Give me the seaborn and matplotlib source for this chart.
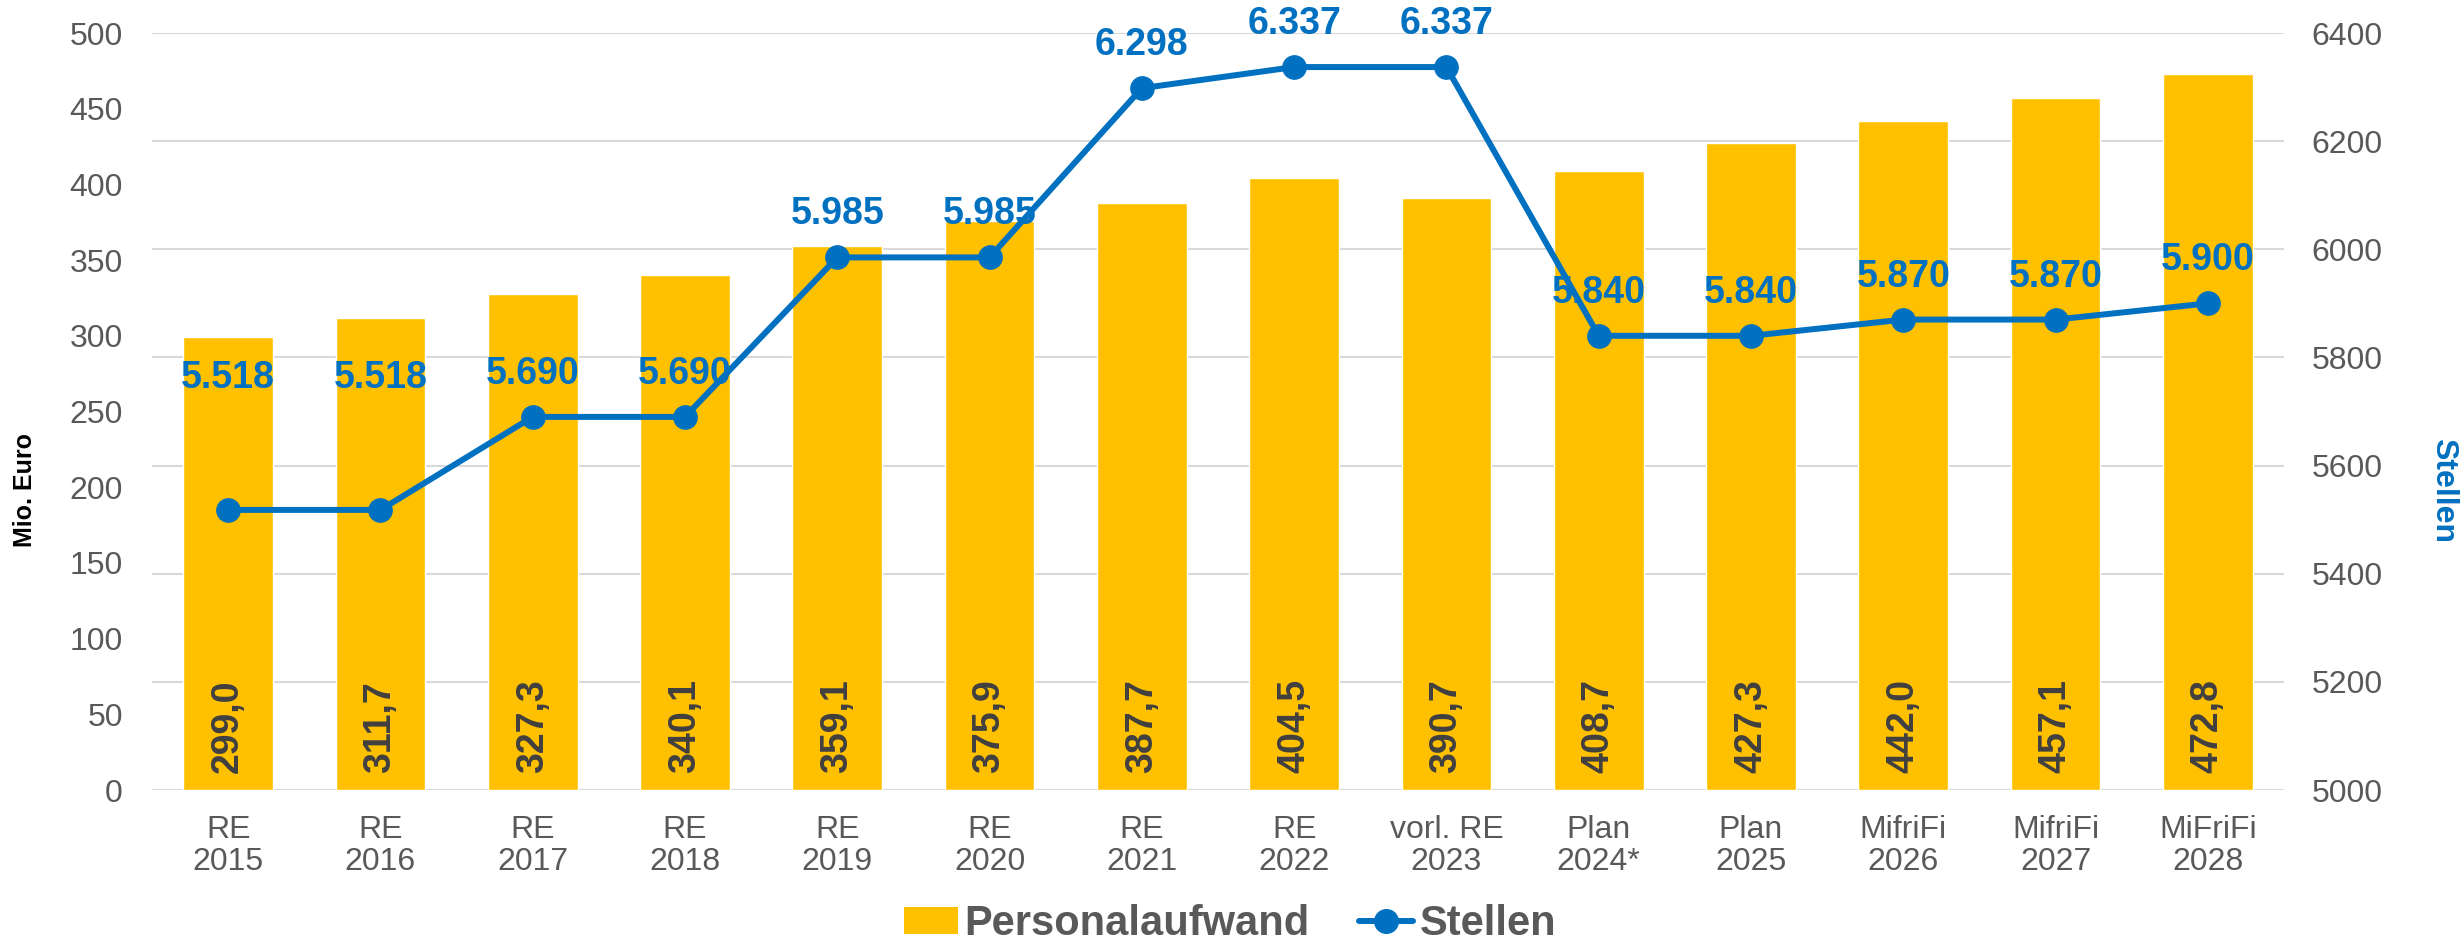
import numpy as np
import pandas as pd
import matplotlib
matplotlib.use("Agg")
import matplotlib.pyplot as plt
from matplotlib.patches import Patch
from matplotlib.lines import Line2D
import seaborn as sns

# ---- data ----
categories = ["RE\n2015", "RE\n2016", "RE\n2017", "RE\n2018", "RE\n2019", "RE\n2020",
              "RE\n2021", "RE\n2022", "vorl. RE\n2023", "Plan\n2024*", "Plan\n2025",
              "MifriFi\n2026", "MifriFi\n2027", "MiFriFi\n2028"]
personalaufwand = [299.0, 311.7, 327.3, 340.1, 359.1, 375.9, 387.7, 404.5, 390.7,
                   408.7, 427.3, 442.0, 457.1, 472.8]
stellen = [5518, 5518, 5690, 5690, 5985, 5985, 6298, 6337, 6337, 5840, 5840, 5870, 5870, 5900]
left_ticks = list(range(0, 501, 50))
right_ticks = list(range(5000, 6401, 200))

# label offsets (points above marker) for the Stellen labels
label_offsets = [95, 95] + [31] * 12

GOLD = "#FFC000"
BLUE = "#0070C0"
GRAY = "#595959"
DARK = "#404040"
GRID = "#D9D9D9"

df = pd.DataFrame({"cat": categories, "pa": personalaufwand, "st": stellen})
df["pos"] = np.arange(len(df))

sns.set_theme(style="white")
plt.rcParams["font.family"] = ["Liberation Sans", "DejaVu Sans"]

fig = plt.figure(figsize=(24.61, 9.46), dpi=100)
ax = fig.add_axes([152 / 2461, 1 - 790 / 946, (2284 - 152) / 2461, (790 - 33) / 946])

sns.barplot(data=df, x="cat", y="pa", color=GOLD, saturation=1, width=0.59, ax=ax, zorder=2)
ax.set_xlim(-0.5, len(df) - 0.5)
ax.set_ylim(0, 500)
ax.set_yticks(left_ticks)
ax.set_xlabel("")
ax.set_ylabel("")

# gridlines aligned with the right axis ticks (drawn behind bars)
for r in right_ticks:
    ax.axhline((r - right_ticks[0]) / (right_ticks[-1] - right_ticks[0]) * 500,
               color=GRID, lw=1.5, zorder=0)

for s in ax.spines.values():
    s.set_visible(False)
ax.tick_params(axis="y", length=0, pad=21, labelsize=23, labelcolor=GRAY)
ax.tick_params(axis="x", length=0, pad=18, labelsize=23, labelcolor=GRAY)
for lab in ax.get_xticklabels():
    lab.set_linespacing(1.1)

# bar labels
for i, v in enumerate(df["pa"]):
    ax.annotate(f"{v:.1f}".replace(".", ","), xy=(i, 0), xytext=(0, 12),
                textcoords="offset points", ha="center", va="bottom", rotation=90,
                fontsize=27, fontweight="bold", color=DARK, zorder=3)

ax2 = ax.twinx()
sns.lineplot(data=df, x="pos", y="st", ax=ax2, color=BLUE, lw=4.3, marker="o",
             markersize=17, markeredgecolor=BLUE, markerfacecolor=BLUE, zorder=4)
ax2.set_ylim(5000, 6400)
ax2.set_yticks(right_ticks)
ax2.set_xlim(-0.5, len(df) - 0.5)
ax2.set_xlabel("")
ax2.set_ylabel("")
ax2.grid(False)
for s in ax2.spines.values():
    s.set_visible(False)
ax2.tick_params(axis="y", length=0, pad=20, labelsize=23, labelcolor=GRAY)

for i, v in enumerate(df["st"]):
    ax2.annotate(f"{v:,}".replace(",", "."), xy=(i, v), xytext=(0, label_offsets[i]),
                 textcoords="offset points", ha="center", va="center",
                 fontsize=27, fontweight="bold", color=BLUE, zorder=5)

fig.text(25 / 2461, 1 - 490 / 946, "Mio. Euro", rotation=90, ha="center", va="center",
         fontsize=18, fontweight="bold", color="black")
fig.text(2443 / 2461, 1 - 490 / 946, "Stellen", rotation=270, ha="center", va="center",
         fontsize=23, fontweight="bold", color=BLUE)

handles = [Patch(facecolor=GOLD, edgecolor="none"),
           Line2D([0], [0], color=BLUE, lw=4.3, marker="o", markersize=17)]
fig.legend(handles, ["Personalaufwand", "Stellen"], loc="center",
           bbox_to_anchor=(1230 / 2461, 1 - 924 / 946), ncol=2, frameon=False,
           prop={"size": 30, "weight": "bold"}, labelcolor=GRAY,
           handlelength=1.3, handleheight=0.6, handletextpad=0.15, columnspacing=1.2)

fig.savefig("out.png", dpi=100)
